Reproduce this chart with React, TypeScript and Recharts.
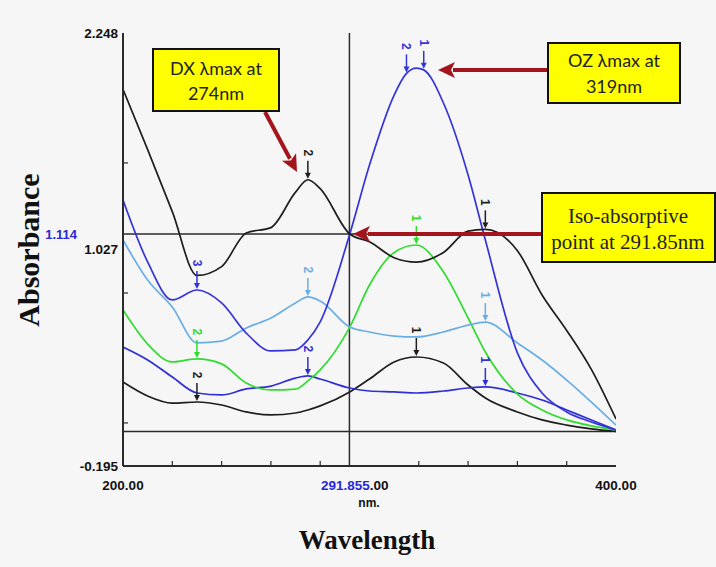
import React from 'react'
import { LineChart, Line, XAxis, YAxis, ReferenceLine } from 'recharts'

// wavelength (nm) grid; 315 / 322 only exist for the OZ peak
const wavelengths = [200, 210, 220, 230, 240, 250, 260, 270, 275, 280, 292, 300, 310, 315, 319, 322, 330, 340, 347, 360, 370, 380, 390, 400]

const blackUpper = [1.93, 1.59, 1.24, 0.88, 0.93, 1.12, 1.15, 1.35, 1.42, 1.37, 1.114, 1.07, 0.98, null, 0.955, null, 1.01, 1.13, 1.14, 1.02, 0.77, 0.57, 0.35, 0.07]
const blueUpper = [1.306, 0.956, 0.742, 0.798, 0.725, 0.555, 0.454, 0.46, 0.516, 0.618, 1.114, 1.503, 1.898, 2.02, 2.05, 2.04, 1.853, 1.447, 1.08, 0.443, 0.217, 0.11, 0.053, 0.008]
const lightBlue = [1.08, 0.854, 0.702, 0.5, 0.51, 0.584, 0.64, 0.725, 0.759, 0.736, 0.589, 0.561, 0.538, null, 0.533, null, 0.561, 0.6, 0.617, 0.499, 0.403, 0.29, 0.166, 0.036]
const green = [0.685, 0.493, 0.392, 0.409, 0.381, 0.273, 0.234, 0.239, 0.285, 0.347, 0.589, 0.826, 1.01, null, 1.052, null, 0.9, 0.64, 0.448, 0.211, 0.121, 0.065, 0.031, 0.008]
const blueLower = [0.476, 0.403, 0.307, 0.217, 0.206, 0.24, 0.256, 0.301, 0.313, 0.296, 0.245, 0.228, 0.223, null, 0.217, null, 0.228, 0.245, 0.251, 0.217, 0.177, 0.121, 0.065, 0.008]
const blackLower = [0.279, 0.2, 0.16, 0.166, 0.149, 0.11, 0.093, 0.104, 0.121, 0.144, 0.223, 0.296, 0.392, null, 0.42, null, 0.386, 0.262, 0.189, 0.11, 0.065, 0.036, 0.014, 0.0]

// peak markers: [wavelength, label]
const blackUpperPeaks: [number, string][] = [[275, '2'], [347, '1']]
const blueUpperPeaks: [number, string][] = [[230, '3'], [315, '2'], [322, '1']]
const lightBluePeaks: [number, string][] = [[275, '2'], [347, '1']]
const greenPeaks: [number, string][] = [[230, '2'], [319, '1']]
const blueLowerPeaks: [number, string][] = [[275, '2'], [347, '1']]
const blackLowerPeaks: [number, string][] = [[230, '2'], [319, '1']]

const yTickLabels = [-0.195, 1.027, 2.248]
const yMinorTicks = [0.048, 0.781, 1.515]
const xTickLabels = [200, 300, 400]
const xMinorTicks = [220, 240, 260, 280, 320, 340, 360, 380]
const cursorWl = 291.855
const cursorAbs = 1.114

const rows = wavelengths.map((wl, i) => ({
  wl,
  blackUpper: blackUpper[i],
  blueUpper: blueUpper[i],
  lightBlue: lightBlue[i],
  green: green[i],
  blueLower: blueLower[i],
  blackLower: blackLower[i],
}))

const SANS = '"Liberation Sans", Arial, sans-serif'
const SERIF = '"Liberation Serif", "Times New Roman", serif'
const AXIS = '#2b2b2b'
const BLUE_TXT = '#2727d8'

function peakDot(marks: [number, string][], color: string) {
  return (props: any) => {
    const { cx, cy, payload, index } = props
    const m = marks.find(([wl]) => wl === payload?.wl)
    if (!m || cx == null || cy == null) return <g key={index} />
    const ly = cy - 27
    return (
      <g key={index}>
        <line x1={cx} y1={cy - 19} x2={cx} y2={cy - 5} stroke={color} strokeWidth={1.5} />
        <path d={`M${cx - 3},${cy - 7} L${cx + 3},${cy - 7} L${cx},${cy - 1} Z`} fill={color} />
        <text
          x={cx}
          y={ly}
          transform={`rotate(90 ${cx} ${ly})`}
          textAnchor="middle"
          dominantBaseline="central"
          fontFamily={SANS}
          fontWeight="bold"
          fontSize={12}
          fill={color}
        >
          {m[1]}
        </text>
      </g>
    )
  }
}

const YTick = ({ x, y, payload }: any) => {
  const v = payload.value
  if (yTickLabels.includes(v)) {
    return (
      <text x={x - 5} y={y} textAnchor="end" dominantBaseline="central" fontFamily={SANS} fontWeight="bold" fontSize={13.5} fill="#111">
        {v.toFixed(3)}
      </text>
    )
  }
  return <line x1={x} y1={y} x2={x + 5} y2={y} stroke={AXIS} strokeWidth={1.2} />
}

const XTick = ({ x, y, payload }: any) => {
  const v = payload.value
  if (v === 300) {
    return (
      <text x={x + 19} y={y + 24} textAnchor="end" fontFamily={SANS} fontWeight="bold" fontSize={13.5} fill="#111">
        <tspan fill={BLUE_TXT}>{cursorWl.toFixed(3)}</tspan>
        <tspan>.00</tspan>
      </text>
    )
  }
  if (xTickLabels.includes(v)) {
    return (
      <text x={x} y={y + 24} textAnchor="middle" fontFamily={SANS} fontWeight="bold" fontSize={13.5} fill="#111">
        {v.toFixed(2)}
      </text>
    )
  }
  return <line x1={x} y1={y} x2={x} y2={y - 5} stroke={AXIS} strokeWidth={1.2} />
}

const TopTick = ({ x, y }: any) => <line x1={x} y1={y} x2={x} y2={y + 5} stroke={AXIS} strokeWidth={1.2} />

function redArrow(x1: number, y1: number, x2: number, y2: number, key: string) {
  const dx = x2 - x1
  const dy = y2 - y1
  const len = Math.sqrt(dx * dx + dy * dy)
  const ux = dx / len
  const uy = dy / len
  const hl = 17
  const hw = 8
  const bx = x2 - ux * hl
  const by = y2 - uy * hl
  return (
    <g key={key}>
      <line x1={x1} y1={y1} x2={bx + ux * 2} y2={by + uy * 2} stroke="#a3141c" strokeWidth={4} />
      <path d={`M${x2},${y2} L${bx - uy * hw},${by + ux * hw} L${bx + ux * 4},${by + uy * 4} L${bx + uy * hw},${by - ux * hw} Z`} fill="#a3141c" />
    </g>
  )
}

const Callouts = () => (
  <svg width={716} height={567} style={{ position: 'absolute', left: 0, top: 0, pointerEvents: 'none' }}>
    {/* axis titles */}
    <text transform="translate(39,250) rotate(-90)" textAnchor="middle" fontFamily={SERIF} fontWeight="bold" fontSize={30} fill="#111">
      Absorbance
    </text>
    <text x={367} y={549} textAnchor="middle" fontFamily={SERIF} fontWeight="bold" fontSize={27} fill="#111">
      Wavelength
    </text>
    <text x={369} y={507} textAnchor="middle" fontFamily={SANS} fontWeight="bold" fontSize={12} fill="#111">
      nm.
    </text>

    {redArrow(265, 112, 297, 172, 'dx')}
    {redArrow(548, 70, 438, 70, 'oz')}
    {redArrow(544, 234, 353, 234, 'iso')}

    <rect x={153} y={49} width={126} height={62} fill="#ffff00" stroke="#111" strokeWidth={2} />
    <text x={216} y={75} textAnchor="middle" fontFamily="Lato, sans-serif" fontSize={18} fill="#222">DX λmax at</text>
    <text x={216} y={100} textAnchor="middle" fontFamily="Lato, sans-serif" fontSize={18} fill="#222">274nm</text>

    <rect x={548} y={43} width={132} height={60} fill="#ffff00" stroke="#111" strokeWidth={2} />
    <text x={614} y={67} textAnchor="middle" fontFamily="Lato, sans-serif" fontSize={18} fill="#222">OZ λmax at</text>
    <text x={614} y={93} textAnchor="middle" fontFamily="Lato, sans-serif" fontSize={18} fill="#222">319nm</text>

    <rect x={542} y={193} width={173} height={69} fill="#ffff00" stroke="#111" strokeWidth={2} />
    <text x={628} y={223} textAnchor="middle" fontFamily={SERIF} fontSize={21} fill="#222">Iso-absorptive</text>
    <text x={628} y={249} textAnchor="middle" fontFamily={SERIF} fontSize={21} fill="#222">point at 291.85nm</text>
  </svg>
)

const seriesList = [
  { key: 'blackLower', color: '#1e1e1e', peaks: blackLowerPeaks },
  { key: 'blueLower', color: '#3030d4', peaks: blueLowerPeaks },
  { key: 'green', color: '#2fdc2f', peaks: greenPeaks },
  { key: 'lightBlue', color: '#6aaee6', peaks: lightBluePeaks },
  { key: 'blueUpper', color: '#3434d8', peaks: blueUpperPeaks },
  { key: 'blackUpper', color: '#1e1e1e', peaks: blackUpperPeaks },
]

export default function App() {
  return (
    <div style={{ position: 'absolute', left: 0, top: 0, width: 716, height: 567, background: '#f6f6f6' }}>
      <LineChart width={716} height={567} data={rows} margin={{ top: 33, right: 100, bottom: 61, left: 63 }}>
        <XAxis
          dataKey="wl"
          type="number"
          domain={[200, 400]}
          ticks={[...xTickLabels, ...xMinorTicks]}
          interval={0}
          tick={<XTick />}
          tickSize={0}
          tickMargin={0}
          height={40}
          axisLine={{ stroke: AXIS, strokeWidth: 2 }}
          allowDataOverflow
        />
        <XAxis
          xAxisId="top"
          orientation="top"
          type="number"
          domain={[200, 400]}
          ticks={[220, 240, 260, 280, 300, 320, 340, 360, 380]}
          interval={0}
          tick={<TopTick />}
          tickSize={0}
          tickMargin={0}
          height={0}
          axisLine={{ stroke: AXIS, strokeWidth: 2 }}
        />
        <YAxis
          type="number"
          domain={[-0.195, 2.248]}
          ticks={[...yTickLabels, ...yMinorTicks]}
          interval={0}
          tick={<YTick />}
          tickSize={0}
          tickMargin={0}
          width={60}
          axisLine={{ stroke: AXIS, strokeWidth: 2 }}
          allowDataOverflow
        />
        <YAxis
          yAxisId="right"
          orientation="right"
          type="number"
          domain={[-0.195, 2.248]}
          tick={false}
          tickLine={false}
          width={0}
          axisLine={{ stroke: AXIS, strokeWidth: 2 }}
        />
        <ReferenceLine y={0} stroke={AXIS} strokeWidth={1.5} />
        <ReferenceLine
          y={cursorAbs}
          stroke={AXIS}
          strokeWidth={1.5}
          label={{ value: cursorAbs.toFixed(3), position: 'left', offset: 46, fill: BLUE_TXT, fontSize: 13, fontWeight: 'bold', fontFamily: SANS }}
        />
        <ReferenceLine x={cursorWl} stroke={AXIS} strokeWidth={1.5} />
        {seriesList.map((s) => (
          <Line
            key={s.key}
            dataKey={s.key}
            type="monotone"
            stroke={s.color}
            strokeWidth={1.7}
            connectNulls
            dot={peakDot(s.peaks, s.color)}
            activeDot={false}
            isAnimationActive={false}
          />
        ))}
      </LineChart>
      <Callouts />
    </div>
  )
}
